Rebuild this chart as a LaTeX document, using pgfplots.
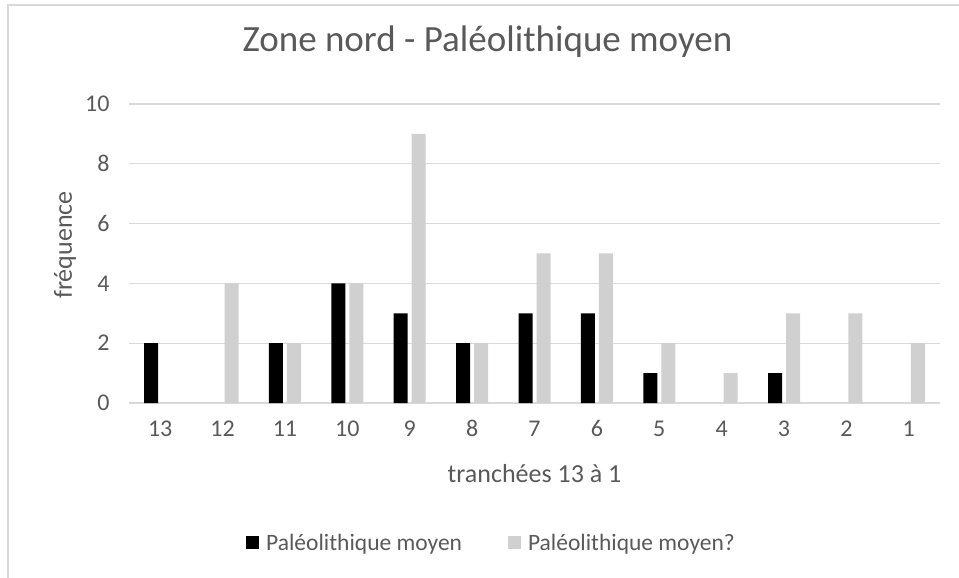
\documentclass[border=0pt]{standalone}
\usepackage{pgfplots}
\pgfplotsset{compat=1.18}
\usepackage{fontspec}
\setmainfont{Carlito}
\definecolor{txt}{HTML}{595959}
\definecolor{gridc}{HTML}{D9D9D9}
\definecolor{lgray}{HTML}{D0D0D0}
\begin{document}
\begin{tikzpicture}
\path[use as bounding box] (0,0) rectangle (959bp,578bp);
\draw[gridc, line width=1.3bp] (8bp,0) -- (8bp,573bp) -- (959bp,573bp);
\begin{axis}[
  at={(129bp,175bp)}, anchor=south west,
  scale only axis, width=811bp, height=299bp,
  xmin=0.5, xmax=13.5, ymin=0, ymax=10,
  xtick={1,...,13},
  xticklabels={13,12,11,10,9,8,7,6,5,4,3,2,1},
  ytick={0,2,...,10},
  /pgf/number format/assume math mode=true,
  xmajorgrids=false, ymajorgrids=true,
  grid style={draw=gridc, line width=1.3bp},
  axis x line*=bottom, axis y line*=left,
  x axis line style={draw=gridc, line width=1.3bp, -},
  y axis line style={draw=none},
  major tick length=0pt, tick style={draw=none},
  tick label style={font=\fontsize{24bp}{28bp}\selectfont, text=txt},
  xticklabel style={anchor=north, text height=16bp, text depth=0bp, yshift=-14bp},
  yticklabel style={xshift=-16bp},
  title={Zone nord - Paléolithique moyen},
  title style={at={(0.442,1.19)}, anchor=center, font=\fontsize{37bp}{42bp}\selectfont, text=txt},
  xlabel={tranchées 13 à 1},
  xlabel style={at={(0.5,-0.236)}, anchor=center, font=\fontsize{26bp}{30bp}\selectfont, text=txt},
  ylabel={fréquence},
  ylabel style={at={(-0.079,0.528)}, anchor=center, rotate=0, font=\fontsize{26bp}{30bp}\selectfont, text=txt},
  legend columns=2,
  legend style={at={(0.447,-0.468)}, anchor=center, draw=none, fill=none,
    font=\fontsize{23.5bp}{28bp}\selectfont, text=txt,
    /tikz/every even column/.append style={column sep=44bp}},
  legend image code/.code={\fill[#1] (0bp,-6.5bp) rectangle (13bp,6.5bp); \path (18bp,0bp);},
  unbounded coords=discard,
  y filter/.expression={y==0 ? nan : y},
  clip=false,
]
\addplot[ybar, bar width=14bp, bar shift=-9bp, fill=black, draw=none] coordinates {
(1,2) (2,0) (3,2) (4,4) (5,3) (6,2) (7,3) (8,3) (9,1) (10,0) (11,1) (12,0) (13,0)};
\addlegendentry{Paléolithique moyen}
\addplot[ybar, bar width=14bp, bar shift=9bp, fill=lgray, draw=none] coordinates {
(1,0) (2,4) (3,2) (4,4) (5,9) (6,2) (7,5) (8,5) (9,2) (10,1) (11,3) (12,3) (13,2)};
\addlegendentry{Paléolithique moyen?}
\end{axis}
\end{tikzpicture}
\end{document}
